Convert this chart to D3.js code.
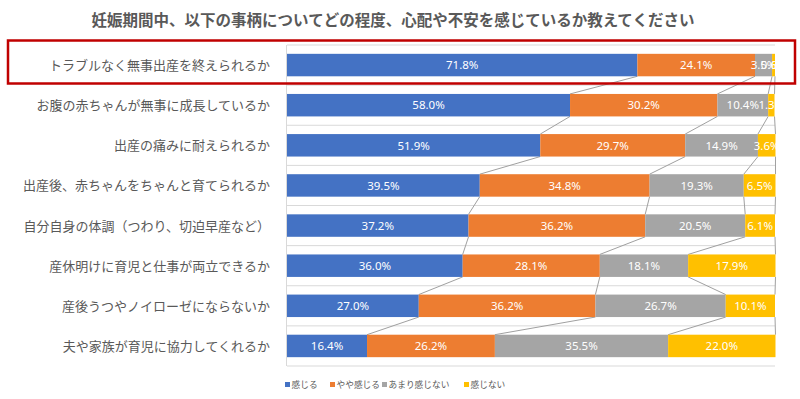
<!DOCTYPE html>
<html><head><meta charset="utf-8">
<script src="https://cdn.jsdelivr.net/npm/d3@7"></script>
<style>body{margin:0;background:#fff}svg{display:block}</style>
</head><body>
<script>
const title = "妊娠期間中、以下の事柄についてどの程度、心配や不安を感じているか教えてください";
const categories = [
  "トラブルなく無事出産を終えられるか",
  "お腹の赤ちゃんが無事に成長しているか",
  "出産の痛みに耐えられるか",
  "出産後、赤ちゃんをちゃんと育てられるか",
  "自分自身の体調（つわり、切迫早産など）",
  "産休明けに育児と仕事が両立できるか",
  "産後うつやノイローゼにならないか",
  "夫や家族が育児に協力してくれるか"
];
const seriesNames = ["感じる", "やや感じる", "あまり感じない", "感じない"];
const feel      = [71.8, 58.0, 51.9, 39.5, 37.2, 36.0, 27.0, 16.4];
const someFeel  = [24.1, 30.2, 29.7, 34.8, 36.2, 28.1, 36.2, 26.2];
const notMuch   = [3.5, 10.4, 14.9, 19.3, 20.5, 18.1, 26.7, 35.5];
const notFeel   = [0.6, 1.3, 3.6, 6.5, 6.1, 17.9, 10.1, 22.0];
const colors = ["#4472C4", "#ED7D31", "#A5A5A5", "#FFC000"];

const W = 800, H = 399;
const svg = d3.select("body").append("svg").attr("width", W).attr("height", H);
const font = "'Noto Sans CJK JP', 'Noto Sans', sans-serif";

svg.append("text").attr("x", 393).attr("y", 26).attr("text-anchor", "middle")
  .attr("font-family", font).attr("font-weight", "bold").attr("font-size", 15.5)
  .attr("fill", "#595959").text(title);

const x = d3.scaleLinear().domain([0, 100]).range([287, 775]);
const y = d3.scaleBand().domain(categories).range([45, 366]).paddingInner(0.44).paddingOuter(0.22);

const seriesVals = [feel, someFeel, notMuch, notFeel];
const rows = categories.map((c, i) => {
  let cum = 0;
  const segs = seriesVals.map((s, k) => { const st = cum; cum += s[i]; return {cat: c, k, v: s[i], x0: st, x1: cum}; });
  return {cat: c, segs};
});

// gridlines at category boundaries
const bounds = d3.range(categories.length + 1).map(i => 45 + i * (321 / categories.length));
svg.append("g").selectAll("line").data(bounds).join("line")
  .attr("x1", 287).attr("x2", 775).attr("y1", d => d).attr("y2", d => d)
  .attr("stroke", "#d9d9d9").attr("stroke-width", 1);
svg.append("line").attr("x1", 286.5).attr("x2", 286.5).attr("y1", 45).attr("y2", 366)
  .attr("stroke", "#d9d9d9");

// series lines
const sl = [];
for (let i = 0; i < rows.length - 1; i++) {
  rows[i].segs.forEach((s, k) => {
    sl.push({x1: x(s.x1), y1: y(rows[i].cat) + y.bandwidth(), x2: x(rows[i + 1].segs[k].x1), y2: y(rows[i + 1].cat)});
  });
}
svg.append("g").selectAll("line").data(sl).join("line")
  .attr("x1", d => d.x1).attr("y1", d => d.y1).attr("x2", d => d.x2).attr("y2", d => d.y2)
  .attr("stroke", "#a0a0a0").attr("stroke-width", 1);

// bars
const g = svg.append("g");
rows.forEach(r => {
  g.selectAll(null).data(r.segs).join("rect")
    .attr("x", d => x(d.x0)).attr("width", d => x(d.x1) - x(d.x0))
    .attr("y", y(r.cat)).attr("height", y.bandwidth())
    .attr("fill", d => colors[d.k]);
  g.selectAll(null).data(r.segs).join("text")
    .attr("x", d => (x(d.x0) + x(d.x1)) / 2).attr("y", y(r.cat) + y.bandwidth() / 2 + 4.2)
    .attr("text-anchor", "middle").attr("font-family", "'Noto Sans', sans-serif").attr("font-size", 11.5)
    .attr("fill", "#fff").text(d => d.v.toFixed(1) + "%");
});

// category labels
svg.append("g").selectAll("text").data(categories).join("text")
  .attr("x", 270).attr("y", d => y(d) + y.bandwidth() / 2 + 5)
  .attr("text-anchor", "end").attr("font-family", font).attr("font-size", 13)
  .attr("fill", "#595959").text(d => d);

// highlight box
svg.append("rect").attr("x", 8).attr("y", 40.5).attr("width", 787).attr("height", 43)
  .attr("fill", "none").attr("stroke", "#C00000").attr("stroke-width", 2.5);

// legend
const legX = [285, 330, 382, 464];
const leg = svg.append("g").selectAll("g").data(seriesNames).join("g")
  .attr("transform", (d, i) => `translate(${legX[i]},385)`);
leg.append("rect").attr("x", 0).attr("y", -3).attr("width", 5).attr("height", 5).attr("fill", (d, i) => colors[i]);
leg.append("text").attr("x", 6.5).attr("y", 3).attr("font-family", font).attr("font-size", 8.7)
  .attr("fill", "#595959").text(d => d);
</script>
</body></html>
